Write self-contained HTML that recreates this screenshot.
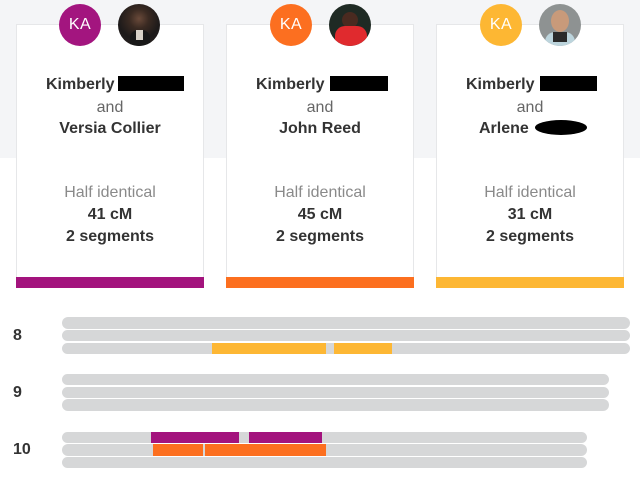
<!DOCTYPE html>
<html><head><meta charset="utf-8">
<style>
*{margin:0;padding:0;box-sizing:border-box}
html,body{width:640px;height:477px;overflow:hidden;background:#fff;font-family:"Liberation Sans",sans-serif}
.topbg{position:absolute;left:0;top:0;width:640px;height:158px;background:#f4f5f7}
.card{position:absolute;top:24px;width:188px;height:264px;background:#fff;border:1px solid #e6e7e9;border-bottom:none}
.bar{position:absolute;left:-1px;right:-1px;bottom:0;height:11px}
.t{position:absolute;left:0;right:0;text-align:center;font-size:16px;line-height:20px;color:#333}
.b{font-weight:bold}
.g{color:#8a8a8a}
.ka{position:absolute;top:4px;width:42px;height:42px;border-radius:50%;color:#fff;font-size:16px;line-height:42px;text-align:center;letter-spacing:0.5px}
.ph{position:absolute;top:4px;width:42px;height:42px;border-radius:50%;overflow:hidden}
.blk{position:absolute;background:#000}
.row{position:absolute;height:11.4px;border-radius:6px;background:#d6d7d8}
.seg{position:absolute;height:11.4px}
.lab{position:absolute;left:13px;font-size:16px;font-weight:bold;color:#333;line-height:18px}
</style></head><body>
<div class="topbg"></div>

<div class="card" style="left:16px">
  <div class="t b" style="top:50px;text-align:left;left:29px">Kimberly</div>
  <div class="t g" style="top:73px;color:#666">and</div>
  <div class="t b" style="top:94px">Versia Collier</div>
  <div class="t g" style="top:158px">Half identical</div>
  <div class="t b" style="top:180px">41 cM</div>
  <div class="t b" style="top:202px">2 segments</div>
  <div class="bar" style="background:#a3137d"></div>
</div>
<div class="card" style="left:226px">
  <div class="t b" style="top:50px;text-align:left;left:29px">Kimberly</div>
  <div class="t g" style="top:73px;color:#666">and</div>
  <div class="t b" style="top:94px">John Reed</div>
  <div class="t g" style="top:158px">Half identical</div>
  <div class="t b" style="top:180px">45 cM</div>
  <div class="t b" style="top:202px">2 segments</div>
  <div class="bar" style="background:#fc6f1f"></div>
</div>
<div class="card" style="left:436px">
  <div class="t b" style="top:50px;text-align:left;left:29px">Kimberly</div>
  <div class="t g" style="top:73px;color:#666">and</div>
  <div class="t b" style="top:94px;text-align:left;left:42px">Arlene</div>
  <div class="t g" style="top:158px">Half identical</div>
  <div class="t b" style="top:180px">31 cM</div>
  <div class="t b" style="top:202px">2 segments</div>
  <div class="bar" style="background:#fdb734"></div>
</div>

<!-- redaction boxes -->
<div class="blk" style="left:118px;top:76px;width:66px;height:15px"></div>
<div class="blk" style="left:330px;top:76px;width:58px;height:15px"></div>
<div class="blk" style="left:540px;top:76px;width:57px;height:15px"></div>
<div class="blk" style="left:535px;top:120px;width:52px;height:15px;border-radius:50%"></div>

<!-- avatars -->
<div class="ka" style="left:59px;background:#a3157f">KA</div>
<div class="ph" style="left:118px;background:radial-gradient(circle at 50% 35%,#6a4a3a 0,#3a2a22 28%,#1d1a1a 60%,#2b2220 100%)">
  <div style="position:absolute;left:12px;top:26px;width:20px;height:18px;border-radius:8px 8px 0 0;background:#181818"></div>
  <div style="position:absolute;left:18px;top:26px;width:7px;height:10px;background:#d8d2c8"></div>
</div>
<div class="ka" style="left:270px;background:#fc6f20">KA</div>
<div class="ph" style="left:329px;background:#1f2a24">
  <div style="position:absolute;left:13px;top:8px;width:16px;height:16px;border-radius:50%;background:#4a2a20"></div>
  <div style="position:absolute;left:6px;top:22px;width:32px;height:22px;border-radius:10px 10px 0 0;background:#e02a2e"></div>
</div>
<div class="ka" style="left:480px;background:#fdb733">KA</div>
<div class="ph" style="left:539px;background:#8e9292">
  <div style="position:absolute;left:12px;top:6px;width:18px;height:22px;border-radius:50%;background:#c89a7a"></div>
  <div style="position:absolute;left:6px;top:28px;width:30px;height:16px;border-radius:10px 10px 0 0;background:#bcd4dc"></div>
  <div style="position:absolute;left:14px;top:28px;width:14px;height:10px;background:#2a2a2a"></div>
</div>

<!-- chromosomes -->
<div class="lab" style="top:327px">8</div>
<div class="lab" style="top:384px">9</div>
<div class="lab" style="top:441px">10</div>

<div class="row" style="left:62px;width:568px;top:317.3px"></div>
<div class="row" style="left:62px;width:568px;top:330px"></div>
<div class="row" style="left:62px;width:568px;top:342.7px"></div>
<div class="seg" style="left:212px;width:114px;top:342.7px;background:#fdb734"></div>
<div class="seg" style="left:334px;width:58px;top:342.7px;background:#fdb734"></div>

<div class="row" style="left:62px;width:547px;top:374px"></div>
<div class="row" style="left:62px;width:547px;top:386.7px"></div>
<div class="row" style="left:62px;width:547px;top:399.3px"></div>

<div class="row" style="left:62px;width:525px;top:431.7px"></div>
<div class="row" style="left:62px;width:525px;top:444.3px"></div>
<div class="row" style="left:62px;width:525px;top:457px"></div>
<div class="seg" style="left:151px;width:88px;top:431.7px;background:#a3137d"></div>
<div class="seg" style="left:249px;width:73px;top:431.7px;background:#a3137d"></div>
<div class="seg" style="left:153px;width:50px;top:444.3px;background:#fc6f1f"></div>
<div class="seg" style="left:205px;width:121px;top:444.3px;background:#fc6f1f"></div>
</body></html>
